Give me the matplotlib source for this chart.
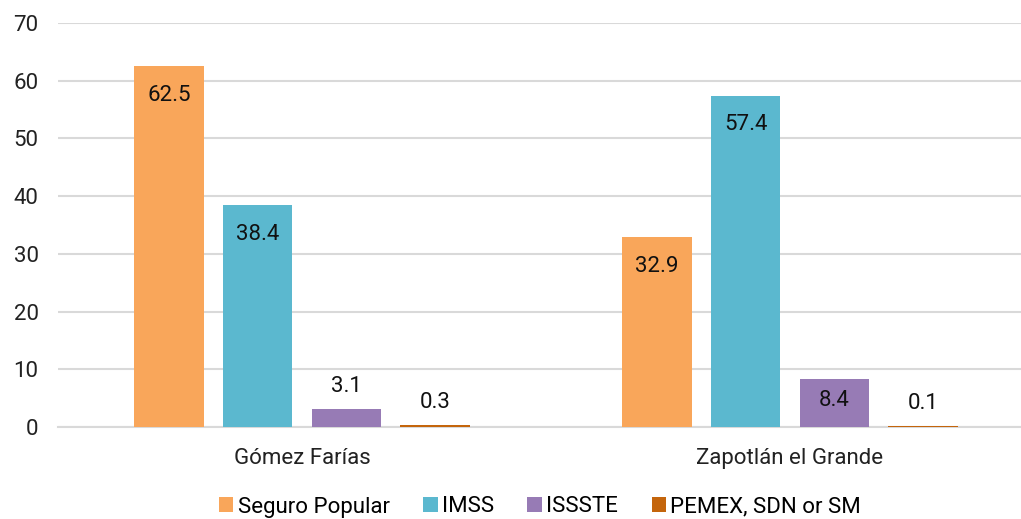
import numpy as np
import matplotlib
matplotlib.use("Agg")
import matplotlib.pyplot as plt

plt.rcParams['font.family'] = ['Roboto', 'DejaVu Sans']

categories = ["Gómez Farías", "Zapotlán el Grande"]
series_names = ["Seguro Popular", "IMSS", "ISSSTE", "PEMEX, SDN or SM"]
seguro_popular = [62.5, 32.9]
imss = [38.4, 57.4]
issste = [3.1, 8.4]
pemex = [0.3, 0.1]
colors = ["#F9A65A", "#5BB8CF", "#977BB5", "#C4650C"]

series = [seguro_popular, imss, issste, pemex]

fig = plt.figure(figsize=(10.21, 5.19), dpi=100)
# axes runs slightly past the right edge, like the original
ax = fig.add_axes([58 / 1021, 92 / 519, 976 / 1021, 404 / 519])

x = np.arange(len(categories))
pitch = 0.182
width = 0.143
offsets = (np.arange(len(series)) - 1.5) * pitch

for i, vals in enumerate(series):
    bars = ax.bar(x + offsets[i], vals, width, color=colors[i],
                  label=series_names[i], zorder=3)
    for b, v in zip(bars, vals):
        cx = b.get_x() + b.get_width() / 2
        if v >= 5:
            dy = -29 if v > 10 else -22
        else:
            dy = 23
        ax.annotate(f"{v:.1f}", (cx, v), xytext=(0, dy),
                    textcoords="offset pixels", ha="center", va="center",
                    fontsize=16, color="#111111", zorder=4)

ax.set_xlim(-0.5, 1.5)
ax.set_ylim(0, 70)
ax.set_yticks(range(0, 71, 10))
ax.set_xticks(x)
ax.set_xticklabels(categories)
ax.yaxis.grid(True, color="#D9D9D9", linewidth=1.5, zorder=0)
ax.set_axisbelow(True)
for s in ["left", "right", "top"]:
    ax.spines[s].set_visible(False)
ax.spines["bottom"].set_color("#D9D9D9")
ax.spines["bottom"].set_linewidth(1.5)
ax.tick_params(axis="y", length=0, pad=14, labelsize=16, labelcolor="#222222")
ax.tick_params(axis="x", length=0, pad=15, labelsize=16, labelcolor="#222222")

fig.legend(loc="center", bbox_to_anchor=(540 / 1021, 1 - 507 / 519),
           ncol=4, frameon=False, fontsize=16, handlelength=0.65,
           handleheight=0.65, handletextpad=0.2, columnspacing=1.5)

fig.savefig("out.png", dpi=100)
